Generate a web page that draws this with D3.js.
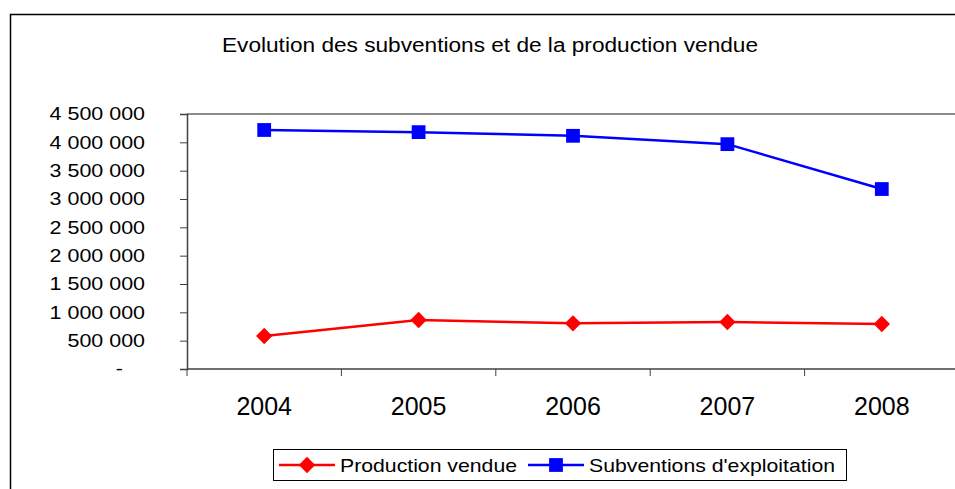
<!DOCTYPE html>
<html>
<head>
<meta charset="utf-8">
<script src="https://cdn.jsdelivr.net/npm/d3@7/dist/d3.min.js"></script>
<style>
  body { margin: 0; background: #fff; }
  text { font-family: "Liberation Sans", Arial, sans-serif; fill: #000; }
</style>
</head>
<body>
<svg id="chart" width="955" height="489"></svg>
<script>
var years = ["2004", "2005", "2006", "2007", "2008"];
var production = [582000, 865000, 806000, 829000, 794000];
var subventions = [4218000, 4180000, 4115000, 3968000, 3176000];
var yTicks = [0, 500000, 1000000, 1500000, 2000000, 2500000, 3000000, 3500000, 4000000, 4500000];
var seriesNames = ["Production vendue", "Subventions d'exploitation"];

var svg = d3.select("#chart");

// cadre du graphique
svg.append("path")
  .attr("d", "M10.5,489V14.5H955")
  .attr("fill", "none")
  .attr("stroke", "#000")
  .attr("stroke-width", 1.5);

svg.append("text")
  .attr("x", 222)
  .attr("y", 52)
  .attr("textLength", 536)
  .attr("lengthAdjust", "spacingAndGlyphs")
  .style("font-size", "20px")
  .text("Evolution des subventions et de la production vendue");

var plotLeft = 187, plotTop = 114, plotBottom = 369, bandW = 154.4;

var x = d3.scaleBand()
  .domain(years)
  .range([plotLeft, plotLeft + bandW * years.length]);

var y = d3.scaleLinear()
  .domain([0, 4500000])
  .range([plotBottom, plotTop]);

// bord haut de la zone de tracé
svg.append("line")
  .attr("x1", plotLeft).attr("x2", 955)
  .attr("y1", plotTop).attr("y2", plotTop)
  .attr("stroke", "#8c8c8c")
  .attr("stroke-width", 2);

function fmt(v) {
  if (v === 0) return "-";
  return d3.format(",")(v).replace(/,/g, " ");
}

var yAxis = svg.append("g")
  .attr("transform", "translate(" + plotLeft + ",0)")
  .call(d3.axisLeft(y).tickValues(yTicks).tickSize(7).tickFormat(fmt));
yAxis.select(".domain").attr("stroke", "#404040").attr("stroke-width", 1.5);
yAxis.selectAll(".tick line").attr("stroke", "#404040");
// les libellés de l'original sont un peu étirés en largeur
yAxis.selectAll("text")
  .attr("x", 0)
  .attr("transform", d => "translate(" + (d === 0 ? -64 : -42) + ",0) scale(1.16,1)")
  .style("font-size", "18.5px")
  .style("font-family", "'Liberation Sans', Arial, sans-serif")
  .attr("fill", "#000");

var xAxis = svg.append("g")
  .attr("transform", "translate(0," + plotBottom + ")");
xAxis.append("line")
  .attr("x1", plotLeft).attr("x2", 955)
  .attr("stroke", "#404040").attr("stroke-width", 1.5);
xAxis.selectAll(".xtick")
  .data(years)
  .enter()
  .append("line")
  .attr("class", "xtick")
  .attr("x1", d => x(d)).attr("x2", d => x(d))
  .attr("y1", 0).attr("y2", 7)
  .attr("stroke", "#404040");
xAxis.selectAll(".xlab")
  .data(years)
  .enter()
  .append("text")
  .attr("class", "xlab")
  .attr("x", d => x(d) + x.bandwidth() / 2)
  .attr("y", 46)
  .attr("text-anchor", "middle")
  .style("font-size", "25px")
  .text(d => d);

var line = d3.line()
  .x((d, i) => x(years[i]) + x.bandwidth() / 2)
  .y(d => y(d));

var square = d3.symbol().type(d3.symbolSquare).size(190);
var diamond = d3.symbol().type(d3.symbolDiamond2).size(170);

function drawSeries(values, color, sym) {
  svg.append("path")
    .datum(values)
    .attr("d", line)
    .attr("fill", "none")
    .attr("stroke", color)
    .attr("stroke-width", 2.5);
  svg.selectAll(null)
    .data(values)
    .enter()
    .append("path")
    .attr("d", sym)
    .attr("transform", (d, i) => "translate(" + (x(years[i]) + x.bandwidth() / 2) + "," + y(d) + ")")
    .attr("fill", color);
}

drawSeries(subventions, "#0000ff", square);
drawSeries(production, "#ff0000", diamond);

// légende
var legend = svg.append("g");
legend.append("rect")
  .attr("x", 273.5).attr("y", 449.5)
  .attr("width", 573).attr("height", 31)
  .attr("fill", "#fff")
  .attr("stroke", "#000");

var legendItems = [
  { name: seriesNames[0], color: "#ff0000", sym: diamond, x0: 279, w: 177 },
  { name: seriesNames[1], color: "#0000ff", sym: square, x0: 528, w: 246 }
];
legendItems.forEach(function(it) {
  legend.append("line")
    .attr("x1", it.x0).attr("x2", it.x0 + 56)
    .attr("y1", 465).attr("y2", 465)
    .attr("stroke", it.color).attr("stroke-width", 2.5);
  legend.append("path")
    .attr("d", it.sym)
    .attr("transform", "translate(" + (it.x0 + 28) + ",465)")
    .attr("fill", it.color);
  legend.append("text")
    .attr("x", it.x0 + 61)
    .attr("y", 472)
    .attr("textLength", it.w)
    .attr("lengthAdjust", "spacingAndGlyphs")
    .style("font-size", "19px")
    .text(it.name);
});
</script>
</body>
</html>
